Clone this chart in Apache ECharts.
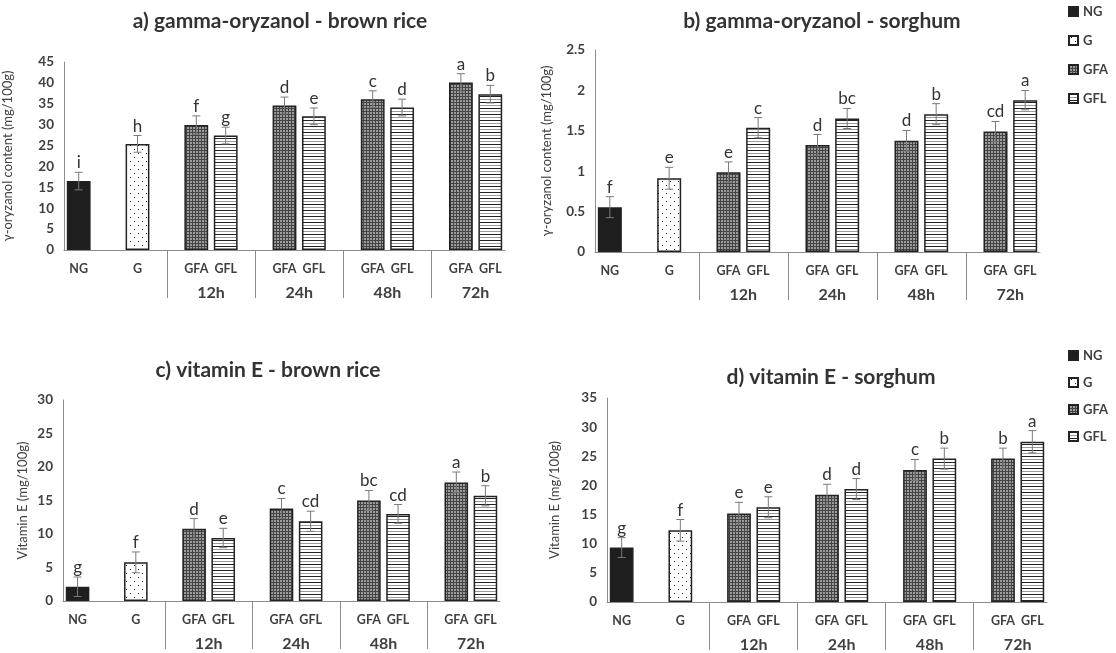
<!DOCTYPE html>
<html><head><meta charset="utf-8">
<script src="https://cdn.jsdelivr.net/npm/echarts@6/dist/echarts.min.js"></script>
<style>html,body{margin:0;padding:0;background:#fff}#c{width:1116px;height:653px}</style>
</head><body><div id="c"></div>
<script>
// ---- category / tick labels ----
const slotLabels = ['NG','','G','','GFA','GFL','','GFA','GFL','','GFA','GFL','','GFA','GFL'];
const groupLabels = ['12h','24h','48h','72h'];
const seriesNames = ['NG','G','GFA','GFL'];
const barSeries = ['NG','G','GFA','GFL','GFA','GFL','GFA','GFL','GFA','GFL'];

const titles = ['a) gamma-oryzanol - brown rice','b) gamma-oryzanol - sorghum','c) vitamin E - brown rice','d) vitamin E - sorghum'];
const yNames = ['\u03b3-oryzanol content (mg/100g)','\u03b3-oryzanol content (mg/100g)','Vitamin E (mg/100g)','Vitamin E (mg/100g)'];
const yMax = [45, 2.5, 30, 35];
const yStep = [5, 0.5, 5, 5];

// ---- values ----
const oryzanolRice = [16.5, 25.4, 29.9, 27.4, 34.6, 32.0, 36.1, 34.1, 40.1, 37.3];
const oryzanolRiceErr = [2.1, 2.0, 2.2, 2.0, 2.0, 2.0, 2.0, 2.0, 2.1, 2.1];
const oryzanolRiceLetters = ['i','h','f','g','d','e','c','d','a','b'];

const oryzanolSorghum = [0.555, 0.913, 0.987, 1.538, 1.324, 1.652, 1.377, 1.706, 1.49, 1.879];
const oryzanolSorghumErr = [0.13, 0.135, 0.128, 0.125, 0.13, 0.124, 0.127, 0.13, 0.125, 0.12];
const oryzanolSorghumLetters = ['f','e','e','c','d','bc','d','b','cd','a'];

const vitERice = [2.13, 5.77, 10.8, 9.4, 13.8, 11.9, 15.0, 13.0, 17.7, 15.7];
const vitERiceErr = [1.45, 1.55, 1.5, 1.45, 1.5, 1.5, 1.5, 1.4, 1.55, 1.5];
const vitERiceLetters = ['g','f','d','e','c','cd','bc','cd','a','b'];

const vitESorghum = [9.34, 12.3, 15.2, 16.25, 18.4, 19.37, 22.65, 24.6, 24.6, 27.5];
const vitESorghumErr = [1.7, 1.85, 1.9, 1.8, 1.8, 1.8, 1.8, 1.8, 1.8, 1.9];
const vitESorghumLetters = ['g','f','e','e','d','d','c','b','b','a'];

const panels = [
  {v: oryzanolRice, e: oryzanolRiceErr, l: oryzanolRiceLetters},
  {v: oryzanolSorghum, e: oryzanolSorghumErr, l: oryzanolSorghumLetters},
  {v: vitERice, e: vitERiceErr, l: vitERiceLetters},
  {v: vitESorghum, e: vitESorghumErr, l: vitESorghumLetters}
];

// ---- layout ----
const grids = [
  {left: 64, top: 62, width: 441, height: 188},
  {left: 595, top: 50, width: 445, height: 202},
  {left: 63, top: 400, width: 437, height: 201},
  {left: 607, top: 398, width: 440, height: 206}
];
const nameGaps = [50, 42, 34, 46];
const titlePos = [[280, 21], [822, 21], [268, 370], [831, 377]];

const FONT = 'Lato';
const TXT = '#404040';
const AXIS = '#8c8c8c';

function makePattern(w, h, draw) {
  const c = document.createElement('canvas'); c.width = w; c.height = h;
  draw(c.getContext('2d'), w, h);
  return {image: c, repeat: 'repeat'};
}
const fills = {
  NG: '#1e1e1e',
  G: makePattern(8, 8, g => { g.fillStyle = '#fff'; g.fillRect(0,0,8,8); g.fillStyle = '#222'; g.fillRect(2,1,1,1); g.fillRect(6,5,1,1); }),
  GFA: makePattern(3, 3, g => { g.fillStyle = '#9c9c9c'; g.fillRect(0,0,3,3); g.fillStyle = '#444'; g.fillRect(0,0,3,1); g.fillRect(0,0,1,3); }),
  GFL: makePattern(4, 6, g => { g.fillStyle = '#fff'; g.fillRect(0,0,4,6); g.fillStyle = '#222'; g.fillRect(0,0,4,1); g.fillStyle = '#9a9a9a'; g.fillRect(0,3,4,1); })
};

const barSlots = slotLabels.map((s, i) => s ? i : -1).filter(i => i >= 0);
const sepSlots = slotLabels.map((s, i) => (s === '' && slotLabels[i + 1] === 'GFA') ? i : -1).filter(i => i >= 0);
const groupCenters = slotLabels.map((s, i) => s === 'GFA' ? i + 1 : -1).filter(i => i >= 0);

const option = {
  animation: false,
  backgroundColor: '#fff',
  grid: grids.map(g => Object.assign({containLabel: false}, g)),
  xAxis: [], yAxis: [], series: [],
  legend: [0, 1].map(k => ({
    orient: 'vertical', left: 1068, top: k === 0 ? 5 : 349,
    data: seriesNames, icon: 'rect', itemWidth: 9, itemHeight: 9, itemGap: k === 0 ? 16 : 14,
    selectedMode: false, padding: 0,
    textStyle: {fontFamily: FONT, fontWeight: 'bold', fontSize: 13, color: TXT}
  })),
  graphic: titles.map((t, i) => ({
    type: 'text', x: titlePos[i][0], y: titlePos[i][1],
    style: {text: t, align: 'center', verticalAlign: 'middle', font: 'bold 21px ' + FONT, fill: '#333'}
  }))
};

panels.forEach((p, pi) => {
  option.xAxis.push({
    type: 'category', gridIndex: pi, data: slotLabels,
    axisLine: {lineStyle: {color: AXIS, width: 1}},
    axisTick: {show: true, alignWithLabel: true, interval: (i) => sepSlots.includes(i), length: 48, lineStyle: {color: AXIS}},
    axisLabel: {interval: 0, margin: 12, fontFamily: FONT, fontWeight: 'bold', fontSize: 12.5, color: TXT}
  });
  option.xAxis.push({
    type: 'value', gridIndex: pi, min: 0, max: slotLabels.length, interval: 1, position: 'bottom',
    axisLine: {show: false}, axisTick: {show: false}, splitLine: {show: false},
    axisLabel: {margin: 35, fontFamily: FONT, fontWeight: 'bold', fontSize: 16, color: TXT,
      formatter: v => { const k = groupCenters.indexOf(v); return k >= 0 ? groupLabels[k] : ''; }}
  });
  option.yAxis.push({
    type: 'value', gridIndex: pi, min: 0, max: yMax[pi], interval: yStep[pi],
    axisLine: {show: true, lineStyle: {color: AXIS}}, axisTick: {show: false}, splitLine: {show: false},
    axisLabel: {margin: 10, fontFamily: FONT, fontWeight: 'bold', fontSize: 13.5, color: TXT},
    name: yNames[pi], nameLocation: 'middle', nameGap: nameGaps[pi],
    nameTextStyle: {fontFamily: FONT, fontSize: 13, color: TXT}
  });
  seriesNames.forEach(n => {
    const data = slotLabels.map(() => '-');
    barSeries.forEach((s, bi) => { if (s === n) data[barSlots[bi]] = p.v[bi]; });
    option.series.push({
      type: 'bar', name: n, xAxisIndex: pi * 2, yAxisIndex: pi, data,
      barWidth: '81%', barGap: '-100%', silent: true,
      itemStyle: {color: fills[n], borderColor: '#222', borderWidth: 1.5}
    });
  });
  option.series.push({
    type: 'custom', xAxisIndex: pi * 2, yAxisIndex: pi, z: 10, silent: true,
    data: p.v.map((v, i) => [barSlots[i], v, p.e[i]]),
    renderItem: (params, api) => {
      const x = api.value(0), v = api.value(1), e = api.value(2);
      const top = api.coord([x, v + e]);
      const bot = api.coord([x, v - e]);
      const cw = 4;
      const st = {stroke: '#7a7a7a', lineWidth: 1};
      return {type: 'group', children: [
        {type: 'line', shape: {x1: top[0], y1: top[1], x2: bot[0], y2: bot[1]}, style: st},
        {type: 'line', shape: {x1: top[0] - cw, y1: top[1], x2: top[0] + cw, y2: top[1]}, style: st},
        {type: 'line', shape: {x1: bot[0] - cw, y1: bot[1], x2: bot[0] + cw, y2: bot[1]}, style: st},
        {type: 'text', style: {text: p.l[params.dataIndex], x: top[0], y: top[1] - 1, align: 'center', verticalAlign: 'bottom', font: '17px ' + FONT, fill: '#333'}}
      ]};
    }
  });
});

const chart = echarts.init(document.getElementById('c'), null, {renderer: 'canvas'});
chart.setOption(option);
</script>
</body></html>
